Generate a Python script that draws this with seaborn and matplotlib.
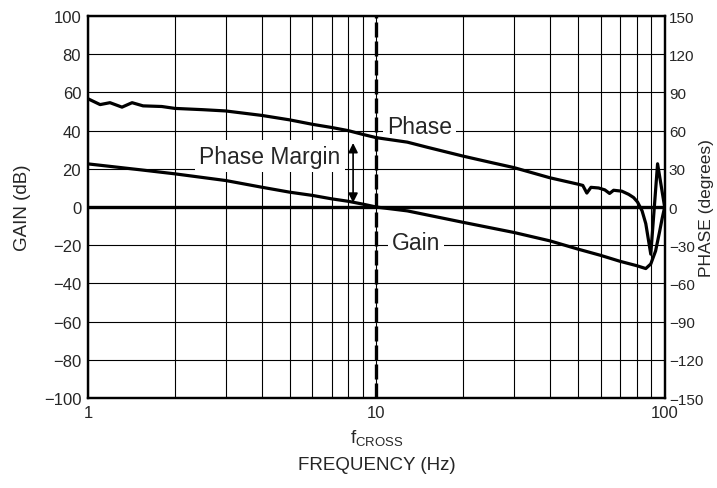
import matplotlib
matplotlib.use("Agg")
import matplotlib.pyplot as plt
import seaborn as sns
import numpy as np
import pandas as pd

# data
phase_freq = [1.0, 1.1, 1.19, 1.31, 1.42, 1.55, 1.8, 2, 2.5, 3, 4, 5, 6, 7, 8, 9, 10,
              12.8, 15, 20, 25, 30, 40, 50, 52, 53.7, 55.5, 59, 62, 64.4, 66.5, 71,
              75, 78, 80.5, 83.5, 86, 89.5, 94.5, 100]
phase_deg = [85, 80.5, 82, 78.5, 82, 79.5, 79, 77.5, 76.5, 75.5, 72, 68.5, 65, 62.5, 60, 57, 54.5,
             51, 47, 40, 35, 31, 23, 18, 17, 11, 15.5, 15, 13.5, 10.7, 13.2, 12.5,
             10, 7.5, 4, -3, -13, -37, 34, 0]

gain_freq = [1, 1.5, 2, 3, 4, 5, 6, 7, 8, 9, 10, 12.8, 20, 30, 40, 50, 60, 70, 80,
             86, 89.5, 93, 96, 98, 100]
gain_db = [22.6, 19.6, 17.4, 13.9, 10.4, 7.8, 6.1, 4.3, 3, 1.5, 0, -2, -8, -13.3, -17.7,
           -22, -25.3, -28.4, -30.7, -32.2, -29.8, -23, -13, -6, 0]

gain_ticks = [-100, -80, -60, -40, -20, 0, 20, 40, 60, 80, 100]
phase_ticks = [-150, -120, -90, -60, -30, 0, 30, 60, 90, 120, 150]
f_cross = 10

df_gain = pd.DataFrame({"freq": gain_freq, "gain": gain_db})
df_phase = pd.DataFrame({"freq": phase_freq, "phase": phase_deg})

sns.set_style("white")
plt.rcParams["font.family"] = ["Liberation Sans", "DejaVu Sans"]
plt.rcParams["mathtext.default"] = "regular"

fig = plt.figure(figsize=(7.17, 4.89), dpi=100)
ax = fig.add_axes([0.123, 0.184, 0.804, 0.781])
ax2 = ax.twinx()

ax.set_xscale("log")
ax.set_xlim(1, 100)
ax.set_ylim(-100, 100)
ax2.set_ylim(-150, 150)

# grid
grid_x = list(range(1, 10)) + list(range(10, 101, 10))
for gx in grid_x:
    ax.axvline(gx, color="black", lw=0.8, zorder=1)
for gy in gain_ticks:
    ax.axhline(gy, color="black", lw=0.8, zorder=1)

ax.axhline(0, color="black", lw=2.4, zorder=3)
ax.axvline(f_cross, color="black", lw=2.4, ls=(0, (4.5, 1.2)), zorder=4)

sns.lineplot(data=df_gain, x="freq", y="gain", ax=ax, color="black", lw=2.3,
             estimator=None, sort=False, zorder=5)
sns.lineplot(data=df_phase, x="freq", y="phase", ax=ax2, color="black", lw=2.3,
             estimator=None, sort=False, zorder=5)

ax.set_yticks(gain_ticks)
ax.set_yticklabels([str(t).replace("-", "\u2212") for t in gain_ticks])
ax2.set_yticks(phase_ticks)
ax2.set_yticklabels([str(t).replace("-", "\u2212") for t in phase_ticks])
ax.set_xticks([1, 10, 100])
ax.set_xticklabels(["1", "10", "100"])
ax.xaxis.set_minor_locator(matplotlib.ticker.NullLocator())

ax.tick_params(length=0, labelsize=12, pad=5)
ax2.tick_params(length=0, labelsize=11, pad=3)
for a in (ax, ax2):
    for s in a.spines.values():
        s.set_linewidth(1.6)
        s.set_color("black")

ax.set_xlabel("FREQUENCY (Hz)", fontsize=13.5)
ax.xaxis.set_label_coords(0.5, -0.175)
ax.set_ylabel("GAIN (dB)", fontsize=13.5)
ax.yaxis.set_label_coords(-0.114, 0.5)
ax2.set_ylabel("PHASE (degrees)", fontsize=12.5)
ax2.yaxis.set_label_coords(1.073, 0.5)
ax.xaxis.label.set_va("center")
ax.yaxis.label.set_va("center")
ax2.yaxis.label.set_va("center")

# f_CROSS under the 10 tick
ax.text(f_cross, -0.102, "$f_{CROSS}$", transform=ax.get_xaxis_transform(),
        ha="center", va="center", fontsize=13.5)

box = dict(facecolor="white", edgecolor="none", pad=3)
ax.text(10.87, 42.4, "Phase", fontsize=16.5, ha="left", va="center", bbox=box, zorder=6)
ax.text(4.27, 26.7, "Phase Margin", fontsize=16.5, ha="center", va="center", bbox=box, zorder=6)
ax.text(11.3, -18.3, "Gain", fontsize=16.5, ha="left", va="center", bbox=box, zorder=6)

ax.annotate("", xy=(8.3, 0.8), xytext=(8.3, 35),
            arrowprops=dict(arrowstyle="<|-|>", color="black", lw=1.2,
                            mutation_scale=14), zorder=7)

fig.savefig("out.png", dpi=100)
